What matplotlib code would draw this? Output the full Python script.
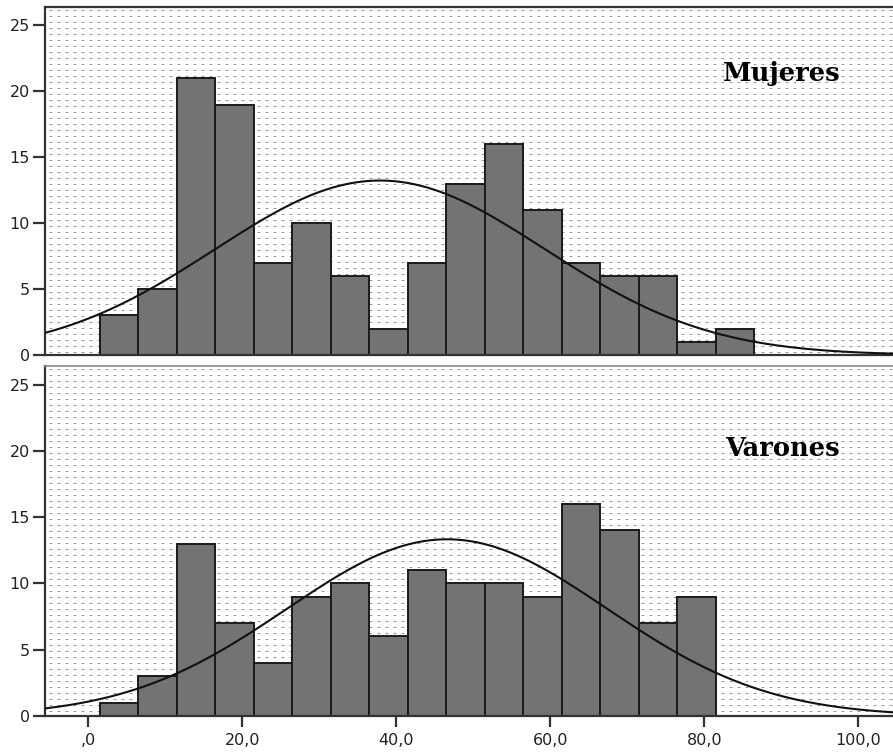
import numpy as np
import matplotlib
matplotlib.use("Agg")
import matplotlib.pyplot as plt

# Histogram data (bin width 5, first bin edge at 1.5)
bin_start = 1.5
bin_width = 5.0
mujeres_counts = [3, 5, 21, 19, 7, 10, 6, 2, 7, 13, 16, 11, 7, 6, 6, 1, 2]
varones_counts = [1, 3, 13, 7, 4, 9, 10, 6, 11, 10, 10, 9, 16, 14, 7, 9]

# Fitted normal curve parameters (mean, standard deviation)
mujeres_fit = (37.9, 21.4)
varones_fit = (46.6, 20.8)

panel_labels = ["Mujeres", "Varones"]
x_ticks = [0, 20, 40, 60, 80, 100]
x_tick_labels = [",0", "20,0", "40,0", "60,0", "80,0", "100,0"]
y_ticks = [0, 5, 10, 15, 20, 25]

XLIM = (-5.6, 104.5)
YLIM = (0, 26.4)

W_PX, H_PX = 893, 752
fig = plt.figure(figsize=(W_PX / 100, H_PX / 100), dpi=100)

axes_px = [(45, 7, 893, 355), (45, 366, 893, 716)]  # left, top, right, bottom


def dotted_texture(w, h):
    img = np.ones((h, w, 3))
    core = np.array([0.58, 0.58, 0.58])
    halo = np.array([0.85, 0.85, 0.85])
    for r in range(3, h, 6):
        for c in range(4, w - 3, 8):
            img[r, c] = halo
            img[r, c + 1:c + 3] = core
            img[r, c + 3] = halo
    return img


for i, (counts, fit, label) in enumerate(zip([mujeres_counts, varones_counts],
                                            [mujeres_fit, varones_fit],
                                            panel_labels)):
    l, t, r, b = axes_px[i]
    ax = fig.add_axes([l / W_PX, 1 - b / H_PX, (r - l) / W_PX, (b - t) / H_PX])
    ax.set_xlim(*XLIM)
    ax.set_ylim(*YLIM)

    # dotted background
    ax.imshow(dotted_texture(r - l, b - t), extent=[XLIM[0], XLIM[1], YLIM[0], YLIM[1]],
              aspect="auto", interpolation="nearest", zorder=0, origin="upper")

    counts = np.asarray(counts)
    edges = bin_start + bin_width * np.arange(len(counts))
    ax.bar(edges, counts, width=bin_width, align="edge", color="#737373",
           edgecolor="#1a1a1a", linewidth=1.4, zorder=2)

    mu, sd = fit
    xs = np.linspace(XLIM[0], XLIM[1], 400)
    n = counts.sum()
    ys = n * bin_width / (sd * np.sqrt(2 * np.pi)) * np.exp(-0.5 * ((xs - mu) / sd) ** 2)
    ax.plot(xs, ys, color="#111111", linewidth=1.5, zorder=3)

    ax.text((782 - l) / (r - l), 0.81 if i == 0 else 0.765, label, transform=ax.transAxes,
            ha="center", va="center", fontsize=18.5, fontweight="bold",
            family="DejaVu Serif", color="black", zorder=4)

    ax.set_yticks(y_ticks)
    ax.set_yticklabels([str(v) for v in y_ticks], fontsize=11.5, color="#222222")
    ax.tick_params(axis="y", direction="out", length=9, width=1.6, color="#333333", pad=2)
    for side in ["left", "bottom", "top"]:
        ax.spines[side].set_linewidth(1.6)
        ax.spines[side].set_color("#333333")
    ax.spines["right"].set_visible(False)
    if i == 0:
        ax.set_xticks([])
    else:
        ax.spines["top"].set_color("#888888")
        ax.spines["top"].set_linewidth(1.2)
        ax.set_xticks(x_ticks)
        ax.set_xticklabels(x_tick_labels, fontsize=11.5, color="#222222")
        ax.tick_params(axis="x", direction="out", length=8, width=1.6, color="#333333", pad=4)

fig.savefig("out.png", dpi=100)
